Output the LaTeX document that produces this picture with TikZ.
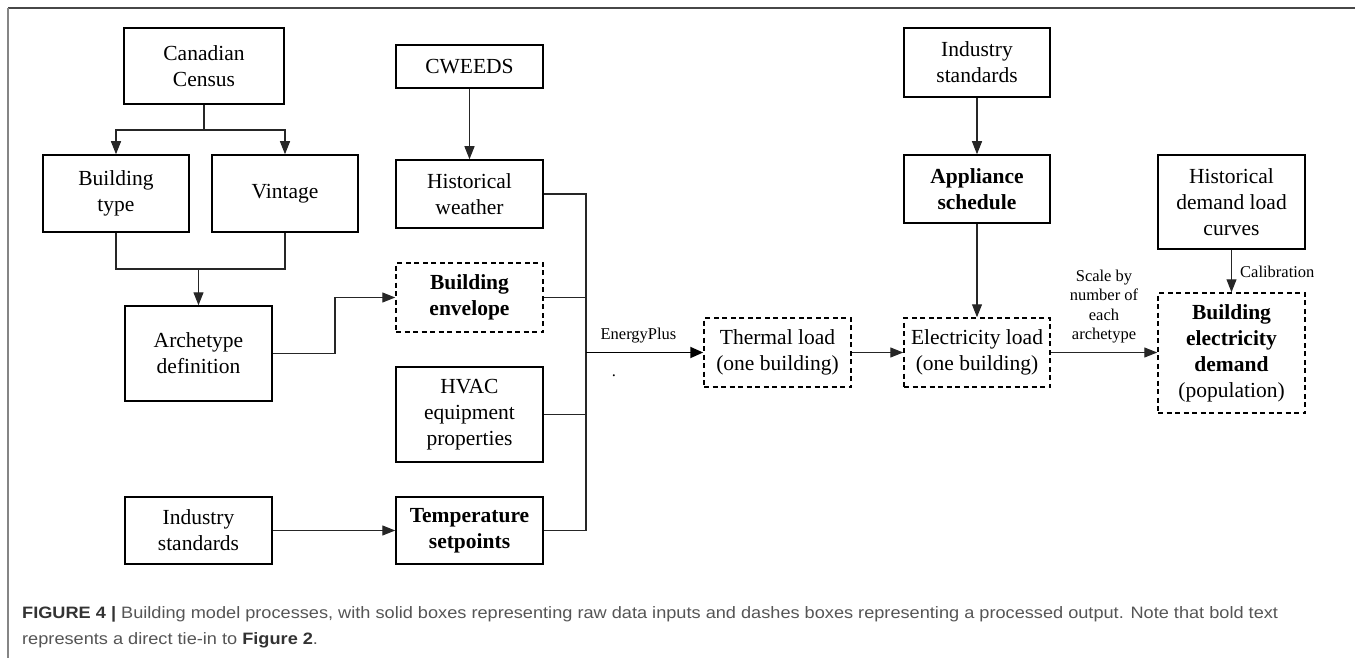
\documentclass[tikz,border=0pt]{standalone}
\usepackage{fontspec}
\usepackage{graphicx}
\setmainfont{Liberation Serif}
\newfontfamily\capfont{Liberation Sans}
\usetikzlibrary{arrows.meta}
\newcommand\bxf{\fontsize{21.5}{26}\selectfont}
\newcommand\lbf{\fontsize{16.5}{19.5}\selectfont}
\newcommand\cpf{\capfont\fontsize{16.5}{19}\selectfont}
\definecolor{capgray}{HTML}{555555}
\definecolor{capdark}{HTML}{333333}
\newsavebox\capA
\newsavebox\capB
\begin{document}
\sbox\capA{\cpf\textcolor{capdark}{\textbf{FIGURE 4 |}} \textcolor{capgray}{Building model processes, with solid boxes representing raw data inputs and dashes boxes representing a processed output. Note that bold text}}
\sbox\capB{\cpf\textcolor{capgray}{represents a direct tie-in to} \textcolor{capdark}{\textbf{Figure 2}}\textcolor{capgray}{.}}
\begin{tikzpicture}[x=1pt,y=-1pt,
  box/.style={draw=black, line width=1.5pt, inner sep=0pt, align=center, font=\bxf, minimum width=147pt},
  dbox/.style={box, dash pattern=on 5pt off 3.5pt},
  conn/.style={draw=black!85, line width=1.1pt},
  arr/.style={conn, -{Triangle[length=13pt,width=10pt]}},
  lbl/.style={font=\lbf, align=center, inner sep=0pt}]
\useasboundingbox (0,0) rectangle (1355,658);
% panel frame
\draw[line width=1.5pt, draw=black!72] (8,8) -- (1355,8);
\draw[line width=2pt, draw=black!48] (7.5,8) -- (7.5,658);

% left column
\node[box, minimum width=160pt, minimum height=76pt] (cc) at (204,66) {Canadian\\Census};
\node[box, minimum width=146pt, minimum height=77pt] (bt) at (116,193.5) {Building\\type};
\node[box, minimum width=146pt, minimum height=77pt] (vin) at (285,193.5) {Vintage};
\node[box, minimum height=95pt] (arch) at (198.5,353.5) {Archetype\\definition};
\node[box, minimum height=67pt] (ind1) at (198.5,530.5) {Industry\\standards};

% second column
\node[box, minimum height=43pt] (cw) at (469.5,66.5) {CWEEDS};
\node[box, minimum height=68pt] (hw) at (469.5,194) {Historical\\weather};
\node[dbox, minimum height=69pt] (env) at (469.5,297.5) {\textbf{Building}\\\textbf{envelope}};
\node[box, minimum height=95pt] (hvac) at (469.5,414.5) {HVAC\\equipment\\properties};
\node[box, minimum height=67pt] (temp) at (469.5,530.5) {\textbf{Temperature}\\\textbf{setpoints}};

% right part
\node[dbox, minimum height=69pt] (th) at (777.5,352.5) {Thermal load\\(one building)};
\node[dbox, minimum width=146pt, minimum height=69pt] (el) at (977,352.5) {Electricity load\\(one building)};
\node[box, minimum width=146pt, minimum height=69pt] (ind2) at (977,62.5) {Industry\\standards};
\node[box, minimum width=146pt, minimum height=68pt] (app) at (977,189) {\textbf{Appliance}\\\textbf{schedule}};
\node[box, minimum height=94pt] (hd) at (1231.5,202) {Historical\\demand load\\curves};
\node[dbox, minimum height=120pt] (dem) at (1231.5,353) {\textbf{Building}\\\textbf{electricity}\\\textbf{demand}\\(population)};

% connectors: census split
\coordinate (j1) at (204,130);
\draw[conn] (cc.south) -- (j1);
\draw[arr] (j1) -| (bt.north);
\draw[arr] (j1) -| (vin.north);
% merge into archetype
\coordinate (m1) at (198.5,269);
\draw[conn] (bt.south) |- (m1) -| (vin.south);
\draw[arr] (m1) -- (arch.north);
% archetype -> envelope
\coordinate (ae) at (335,353.5);
\draw[arr] (arch.east) -- (ae) |- (env.west);
% cweeds -> weather
\draw[arr] (cw.south) -- (hw.north);
% industry -> temperature
\draw[arr] (ind1.east) -- (temp.west);
% bus
\coordinate (bt1) at (586,194);
\coordinate (bb1) at (586,530.5);
\draw[conn] (hw.east) -- (bt1) -- (bb1) -- (temp.east);
\draw[conn] (env.east) -- (env.east -| bt1);
\draw[conn] (hvac.east) -- (hvac.east -| bt1);
\coordinate (ep) at (586,352.5);
\draw[conn, line width=1.8pt, draw=black, -{Triangle[length=13pt,width=11pt]}] (ep) -- (th.west);
\node[lbl] (eplbl) at (638.5,336) {EnergyPlus};
\node[inner sep=0pt, font=\lbf] (dot) at (614,376) {.};
% thermal -> electricity -> demand
\draw[arr] (th.east) -- (el.west);
\draw[arr] (el.east) -- (el.east -| dem.west);
\node[lbl] (scl) at (1104,306.5) {Scale by\\number of\\each\\archetype};
% industry -> appliance -> electricity
\draw[arr] (ind2.south) -- (app.north);
\draw[arr] (app.south) -- (el.north);
% historical demand -> demand
\draw[arr] (hd.south) -- (dem.north);
\node[lbl, anchor=west] (cal) at (1240,272) {Calibration};

% caption
\pgfmathsetmacro\capsc{1256/\wd\capA}
\node[anchor=west, inner sep=0pt] (cap1) at (22,614) {\scalebox{\capsc}[1]{\usebox\capA}};
\node[anchor=west, inner sep=0pt] (cap2) at (22,640) {\scalebox{\capsc}[1]{\usebox\capB}};
\end{tikzpicture}
\end{document}
